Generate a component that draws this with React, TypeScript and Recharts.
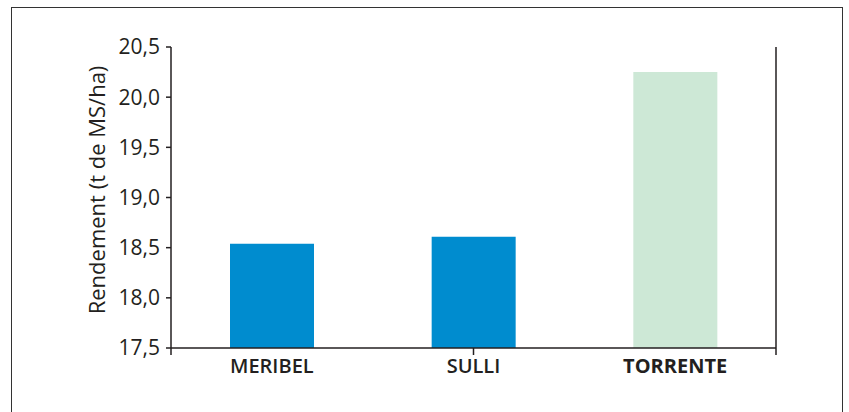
import { BarChart, Bar, XAxis, YAxis, Cell } from 'recharts';

const varieties = ['MERIBEL', 'SULLI', 'TORRENTE'];
const rendement = [18.54, 18.61, 20.25];
const barColors = ['#008ccf', '#008ccf', '#cde8d6'];
const yTicks = [17.5, 18, 18.5, 19, 19.5, 20, 20.5];
const boundaryTicks = [0, 1, 2, 3];

const data = varieties.map((name, i) => ({ name, value: rendement[i] }));

const INK = '#231f20';
const FONT = '"Open Sans", "Noto Sans", sans-serif';

function fmt(v: number) {
  return v.toFixed(1).replace('.', ',');
}

function CategoryTick(props: any) {
  const { x, y, payload } = props;
  const bold = payload.value === 'TORRENTE';
  return (
    <text
      x={x}
      y={y}
      dy="0.71em"
      textAnchor="middle"
      fill={INK}
      fontFamily={FONT}
      fontSize={20}
      fontWeight={bold ? 700 : 600}
    >
      {payload.value}
    </text>
  );
}

function NoLabel() {
  return <g />;
}

function AxisTitle() {
  return (
    <text
      x={96}
      y={190}
      transform="rotate(-90 96 190)"
      textAnchor="middle"
      dominantBaseline="central"
      fill={INK}
      fontFamily={FONT}
      fontSize={22}
      fontWeight={500}
    >
      Rendement (t de MS/ha)
    </text>
  );
}

export default function App() {
  return (
    <div style={{ position: 'absolute', left: 0, top: 0, width: 849, height: 412, overflow: 'hidden', background: '#fff' }}>
      <div
        style={{
          position: 'absolute',
          left: 11,
          top: 7,
          width: 830,
          height: 420,
          border: '1px solid #333',
        }}
      />
      <div style={{ position: 'absolute', left: 0, top: 0 }}>
        <BarChart
          width={849}
          height={412}
          data={data}
          margin={{ top: 47, right: 72, bottom: 34, left: 71 }}
        >
          <XAxis
            xAxisId="a"
            type="number"
            domain={[0, 3]}
            ticks={boundaryTicks}
            interval={0}
            tick={<NoLabel />}
            height={1}
            axisLine={{ stroke: INK, strokeWidth: 1.5 }}
            tickLine={{ stroke: INK, strokeWidth: 1.5 }}
            tickSize={7}
          />
          <XAxis
            xAxisId="b"
            dataKey="name"
            height={29}
            axisLine={false}
            tickLine={false}
            tickSize={0}
            tickMargin={10}
            tick={<CategoryTick />}
            interval={0}
          />
          <YAxis
            yAxisId="left"
            domain={[17.5, 20.5]}
            ticks={yTicks}
            width={100}
            tickFormatter={fmt}
            axisLine={{ stroke: INK, strokeWidth: 1.5 }}
            tickLine={{ stroke: INK, strokeWidth: 1.5 }}
            tickSize={5}
            tickMargin={6}
            tick={{ fill: INK, fontFamily: FONT, fontSize: 21, fontWeight: 500 }}
            allowDataOverflow
            label={<AxisTitle />}
          />
          <YAxis
            yAxisId="right"
            orientation="right"
            domain={[17.5, 20.5]}
            width={1}
            tick={false}
            tickLine={false}
            axisLine={{ stroke: INK, strokeWidth: 1.5 }}
          />
          <Bar
            dataKey="value"
            xAxisId="b"
            yAxisId="left"
            barSize={84}
            isAnimationActive={false}
          >
            {data.map((_, i) => (
              <Cell key={i} fill={barColors[i]} />
            ))}
          </Bar>
          <Bar dataKey="value" xAxisId="a" yAxisId="right" fill="none" barSize={0} isAnimationActive={false} />
        </BarChart>
      </div>
    </div>
  );
}
